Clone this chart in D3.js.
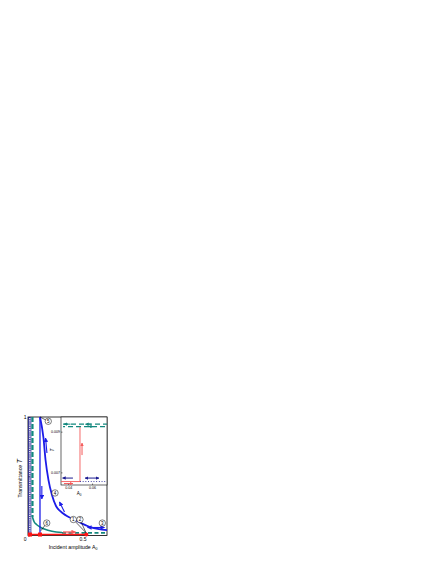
<!DOCTYPE html>
<html><head><meta charset="utf-8">
<script src="https://cdn.jsdelivr.net/npm/d3@7"></script>
<style>body{margin:0;background:#fff}svg{display:block}text{font-family:"Liberation Sans",Arial,sans-serif}</style>
</head><body><svg id="c" width="436" height="564"></svg>
<script>
// ---------- data ----------
const xTicks = [0, 0.5];
const xTickLabels = ["", "0.5"];
const yTicks = [0, 0.5, 1];
const yTickLabels = ["0", "", "1"];

const blueCurveA = [0.110, 0.142, 0.161, 0.188, 0.220, 0.257, 0.294, 0.349, 0.431, 0.578, 0.725];
const blueCurveT = [1.000, 0.823, 0.637, 0.468, 0.342, 0.249, 0.207, 0.169, 0.131, 0.069, 0.046];
const blueJumpA = [0.110, 0.110];
const blueJumpT = [1.0, 0.0];

const navySolidA = [0.006, 0.006];
const navyDotA = [0.017, 0.017];
const navyEdgeA = [0.027, 0.027];
const navyT = [1.0, 0.0];

const tealVertA = [0.041, 0.041];
const tealVertT = [1.0, 0.156];
const tealCurveA = [0.041, 0.055, 0.078, 0.110, 0.156, 0.220, 0.312];
const tealCurveT = [0.156, 0.118, 0.093, 0.072, 0.052, 0.036, 0.025];
const tealTailA = [0.312, 0.725];
const tealTailT = [0.022, 0.022];

const redLineA = [0.0, 0.535];
const redLineT = [0.008, 0.008];
const redSquareA = [0.018, 0.110];
const redDotA = [0.535];

// main arrows: [A1, T1, A2, T2]
const blueArrows = [[0.174, 0.696, 0.161, 0.823], [0.127, 0.418, 0.127, 0.308], [0.335, 0.198, 0.289, 0.283],
                    [0.624, 0.0675, 0.702, 0.0675], [0.624, 0.0675, 0.546, 0.0675]];
const redArrows = [[0.321, 0.0295, 0.436, 0.0295]];

// circled labels: [label, A, T, pointerA, pointerT]
const circleLabels = [["5", 0.186, 0.964, 0.110, 1.0], ["4", 0.248, 0.359, null, null], ["6", 0.172, 0.105, 0.118, 0.040],
                      ["1", 0.416, 0.135, 0.533, 0.022], ["2", 0.477, 0.135, 0.533, 0.022], ["3", 0.682, 0.105, null, null]];

// inset
const insetXTicks = [0.04, 0.06];
const insetXTickLabels = ["0.04", "0.06"];
const insetYTicks = [0.007, 0.009];
const insetYTickLabels = ["0.007", "0.009"];
const insetTealUpperT = 0.00937;
const insetTealLowerT = 0.00925;
const insetTealA = [0.0357, 0.0725];
const insetTealArrows = [[0.0420, 0.00937, 0.0365, 0.00937], [0.0620, 0.00925, 0.0570, 0.00925], [0.0590, 0.00937, 0.0545, 0.00937]];
const insetRedVertA = [0.0499, 0.0499];
const insetRedVertT = [0.00923, 0.00655];
const insetRedHorA = [0.034, 0.0499];
const insetRedHorT = [0.00655, 0.00655];
const insetRedArrows = [[0.0516, 0.00785, 0.0516, 0.00844], [0.0365, 0.00645, 0.0440, 0.00645]];
const insetBlueArrows = [[0.0440, 0.00672, 0.0353, 0.00672], [0.0600, 0.00672, 0.0541, 0.00672], [0.0600, 0.00672, 0.0658, 0.00672]];
const insetNavyDotA = [0.0499, 0.0725];
const insetNavyDotT = [0.00655, 0.00655];

// ---------- drawing ----------
const svg = d3.select("#c");
const x = d3.scaleLinear().domain([0, 0.725]).range([28, 107]);
const y = d3.scaleLinear().domain([0, 1]).range([535.5, 417]);
const xi = d3.scaleLinear().domain([0.034, 0.0725]).range([61, 107]);
const yi = d3.scaleLinear().domain([0.00638, 0.00972]).range([485, 417]);

const C = {blue: "#1c1ce8", navy: "#1a1a90", teal: "#13887e", red: "#ff1414", lred: "#f45a5a"};

const defs = svg.append("defs");
function mk(id, color, s) {
  defs.append("marker").attr("id", id).attr("viewBox", "0 0 10 10").attr("refX", 9).attr("refY", 5)
    .attr("markerUnits", "userSpaceOnUse").attr("markerWidth", s).attr("markerHeight", s).attr("orient", "auto")
    .append("path").attr("d", "M0,0 L10,5 L0,10 z").attr("fill", color);
}
mk("ab", C.blue, 4.5); mk("an", C.navy, 3.5); mk("at", C.teal, 3.5); mk("ar", C.lred, 4.5); mk("ar2", C.lred, 3.5);

const zip = (a, b) => a.map((v, i) => [v, b[i]]);
const line = (sx, sy) => d3.line().x(d => sx(d[0])).y(d => sy(d[1]));

// frame
svg.append("rect").attr("x", x(0)).attr("y", y(1)).attr("width", x(0.725) - x(0)).attr("height", y(0) - y(1))
  .attr("fill", "none").attr("stroke", "#000").attr("stroke-width", 0.8);

// axes
const ya = svg.append("g").attr("transform", `translate(${x(0)},0)`)
  .call(d3.axisLeft(y).tickValues(yTicks).tickSizeInner(-2).tickSizeOuter(0).tickPadding(1.5).tickFormat((d, i) => yTickLabels[i]));
const xa = svg.append("g").attr("transform", `translate(0,${y(0)})`)
  .call(d3.axisBottom(x).tickValues(xTicks).tickSizeInner(-2).tickSizeOuter(0).tickPadding(1.5).tickFormat((d, i) => xTickLabels[i]));
[ya, xa].forEach(g => { g.select(".domain").remove(); g.selectAll("text").attr("font-size", 5).attr("fill", "#000"); g.selectAll("line").attr("stroke-width", 0.6); });
ya.selectAll(".tick text").filter(d => d === 0).attr("dy", "0.95em").attr("x", -1.5);

// axis labels
const yl = svg.append("text").attr("transform", `translate(21.5,${(y(0) + y(1)) / 2 + 2}) rotate(-90)`).attr("text-anchor", "middle").attr("font-size", 5.2);
yl.append("tspan").text("Transmittance  ");
yl.append("tspan").attr("font-style", "italic").attr("font-size", 7).text("T");
const xl = svg.append("text").attr("x", 73).attr("y", 548.5).attr("text-anchor", "middle").attr("font-size", 5.2);
xl.append("tspan").text("Incident amplitude A");
xl.append("tspan").attr("font-size", 3.5).attr("dy", 1.3).text("0");

// left vertical group
svg.append("path").datum(zip(navySolidA, navyT)).attr("d", line(x, y)).attr("stroke", C.navy).attr("stroke-width", 0.9).attr("fill", "none");
svg.append("path").datum(zip(navyDotA, navyT)).attr("d", line(x, y)).attr("stroke", C.navy).attr("stroke-width", 1.2).attr("stroke-dasharray", "1,1.2").attr("fill", "none");
svg.append("path").datum(zip(navyEdgeA, navyT)).attr("d", line(x, y)).attr("stroke", C.navy).attr("stroke-width", 0.7).attr("fill", "none");
svg.append("path").datum(zip(tealVertA, tealVertT)).attr("d", line(x, y)).attr("stroke", C.teal).attr("stroke-width", 2.2).attr("stroke-dasharray", "5,2").attr("fill", "none");
svg.append("path").datum(zip(tealCurveA, tealCurveT)).attr("d", line(x, y).curve(d3.curveMonotoneX)).attr("stroke", C.teal).attr("stroke-width", 1.6).attr("fill", "none");
svg.append("path").datum(zip(tealTailA, tealTailT)).attr("d", line(x, y)).attr("stroke", C.teal).attr("stroke-width", 1.6).attr("stroke-dasharray", "4,2.5").attr("fill", "none");

// blue
svg.append("path").datum(zip(blueJumpA, blueJumpT)).attr("d", line(x, y)).attr("stroke", C.blue).attr("stroke-width", 1.3).attr("fill", "none");
svg.append("path").datum(zip(blueCurveA, blueCurveT)).attr("d", line(x, y).curve(d3.curveMonotoneX)).attr("stroke", C.blue).attr("stroke-width", 1.8).attr("fill", "none");

// red bottom
svg.append("path").datum(zip(redLineA, redLineT)).attr("d", line(x, y)).attr("stroke", C.red).attr("stroke-width", 1.6).attr("fill", "none");
svg.selectAll(".rsq").data(redSquareA).enter().append("rect").attr("x", d => x(d) - 2).attr("y", y(0.008) - 2).attr("width", 4).attr("height", 4).attr("fill", C.red);
svg.selectAll(".rdot").data(redDotA).enter().append("circle").attr("cx", d => x(d)).attr("cy", y(0.008)).attr("r", 2).attr("fill", C.red);

// arrows
function arrows(data, sx, sy, color, w, m) {
  svg.append("g").selectAll("line").data(data).enter().append("line")
    .attr("x1", d => sx(d[0])).attr("y1", d => sy(d[1])).attr("x2", d => sx(d[2])).attr("y2", d => sy(d[3]))
    .attr("stroke", color).attr("stroke-width", w).attr("marker-end", `url(#${m})`);
}
arrows(blueArrows, x, y, C.blue, 1.1, "ab");
arrows(redArrows, x, y, C.lred, 1.3, "ar");

// inset
svg.append("rect").attr("x", xi(0.034)).attr("y", yi(0.00972)).attr("width", xi(0.0725) - xi(0.034)).attr("height", yi(0.00638) - yi(0.00972))
  .attr("fill", "#fff").attr("stroke", "#000").attr("stroke-width", 0.6);
const iya = svg.append("g").attr("transform", `translate(${xi(0.034)},0)`)
  .call(d3.axisLeft(yi).tickValues(insetYTicks).tickSizeInner(-1.5).tickSizeOuter(0).tickPadding(1).tickFormat((d, i) => insetYTickLabels[i]));
const ixa = svg.append("g").attr("transform", `translate(0,${yi(0.00638)})`)
  .call(d3.axisBottom(xi).tickValues(insetXTicks).tickSizeInner(-1.5).tickSizeOuter(0).tickPadding(1.5).tickFormat((d, i) => insetXTickLabels[i]));
[iya, ixa].forEach(g => { g.select(".domain").remove(); g.selectAll("text").attr("font-size", 3.6).attr("fill", "#000"); g.selectAll("line").attr("stroke-width", 0.5); });
svg.append("text").attr("transform", `translate(53.5,${yi(0.0081)}) rotate(-90)`).attr("text-anchor", "middle").attr("font-size", 5).attr("font-style", "italic").text("T");
const ixl = svg.append("text").attr("x", 79).attr("y", 495).attr("text-anchor", "middle").attr("font-size", 4.5);
ixl.append("tspan").text("A");
ixl.append("tspan").attr("font-size", 3).attr("dy", 1).text("0");

svg.append("path").datum(insetTealA.map(a => [a, insetTealUpperT])).attr("d", line(xi, yi)).attr("stroke", C.teal).attr("stroke-width", 1.2).attr("stroke-dasharray", "5,3").attr("fill", "none");
svg.append("path").datum(insetTealA.map(a => [a, insetTealLowerT])).attr("d", line(xi, yi)).attr("stroke", C.teal).attr("stroke-width", 1.2).attr("stroke-dasharray", "5,3").attr("stroke-dashoffset", 3).attr("fill", "none");
arrows(insetTealArrows, xi, yi, C.teal, 1, "at");
svg.append("path").datum(zip(insetRedVertA, insetRedVertT)).attr("d", line(xi, yi)).attr("stroke", C.lred).attr("stroke-width", 0.9).attr("fill", "none");
svg.append("path").datum(zip(insetRedHorA, insetRedHorT)).attr("d", line(xi, yi)).attr("stroke", C.lred).attr("stroke-width", 0.9).attr("fill", "none");
svg.append("path").datum(zip(insetNavyDotA, insetNavyDotT)).attr("d", line(xi, yi)).attr("stroke", C.navy).attr("stroke-width", 0.9).attr("stroke-dasharray", "0.9,1.8").attr("fill", "none");
arrows(insetRedArrows, xi, yi, C.lred, 1, "ar2");
arrows(insetBlueArrows, xi, yi, C.navy, 1, "an");

// circled labels
const cl = svg.append("g").selectAll("g").data(circleLabels).enter().append("g");
cl.filter(d => d[3] !== null).append("line")
  .attr("x1", d => x(d[1])).attr("y1", d => y(d[2])).attr("x2", d => x(d[3])).attr("y2", d => y(d[4]))
  .attr("stroke", "#000").attr("stroke-width", 0.6);
cl.append("circle").attr("cx", d => x(d[1])).attr("cy", d => y(d[2])).attr("r", 3.2).attr("fill", "#fff").attr("stroke", "#000").attr("stroke-width", 0.5);
cl.append("text").attr("x", d => x(d[1])).attr("y", d => y(d[2]) + 1.6).attr("text-anchor", "middle").attr("font-size", 4.5).text(d => d[0]);
</script></body></html>
